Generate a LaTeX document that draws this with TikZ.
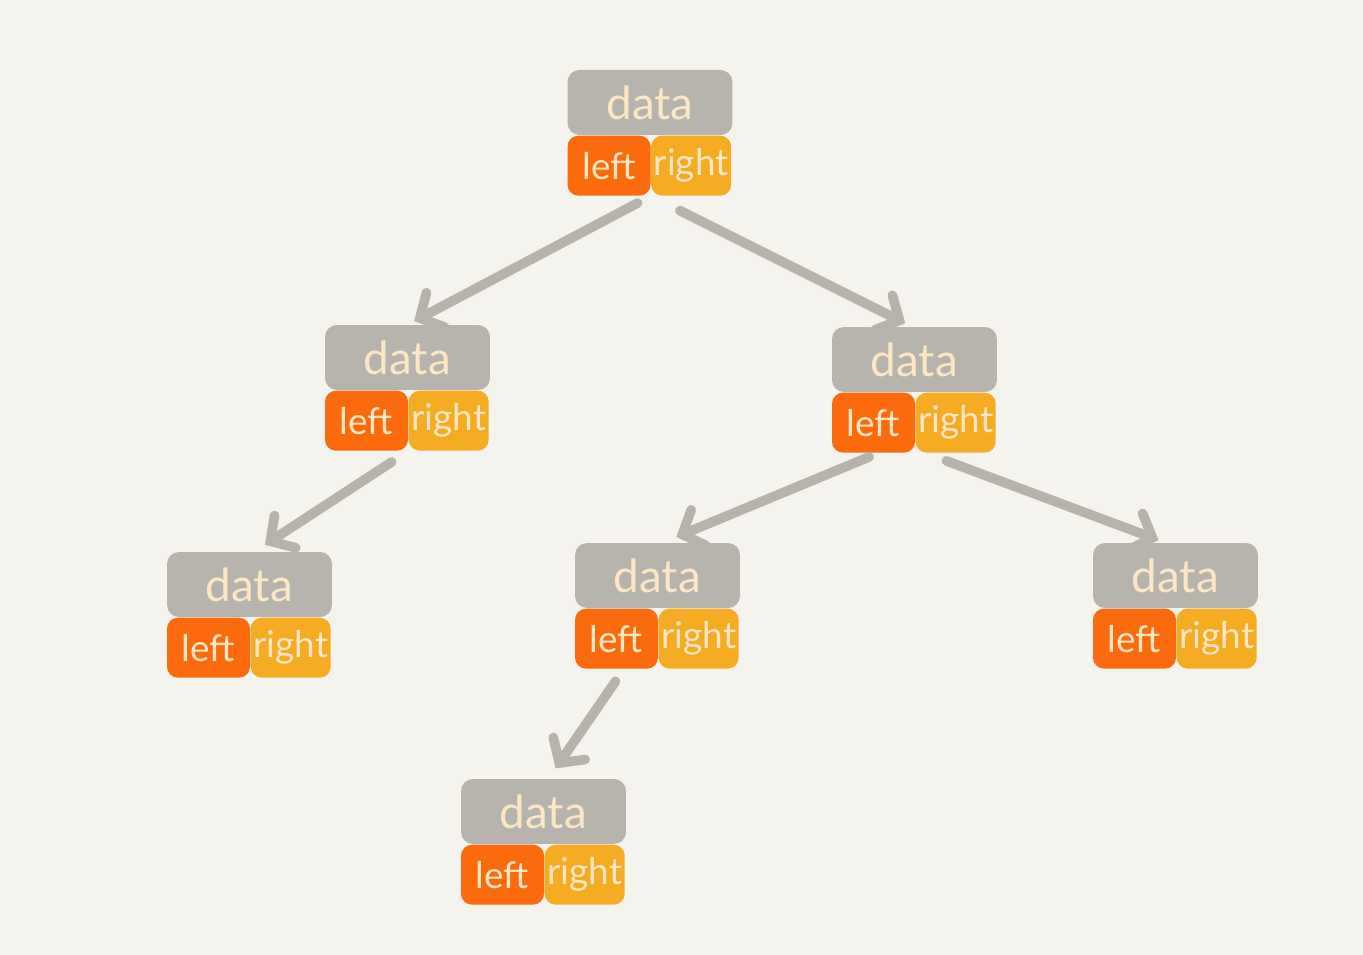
\documentclass[tikz,border=0pt]{standalone}
\usepackage{fontspec}
\setmainfont{Lato}
\usepackage{tikz}
\usetikzlibrary{positioning,arrows.meta}
\definecolor{bgcol}{HTML}{F5F3EE}
\definecolor{datacol}{HTML}{B7B4AD}
\definecolor{leftcol}{HTML}{FB6A0C}
\definecolor{rightcol}{HTML}{F5AB22}
\definecolor{textcol}{HTML}{FCE6C3}
\definecolor{edgecol}{HTML}{B5B3AB}
\newcommand{\bnode}[2]{%
	\node[databox] (#1) at (#2) {data};
	\node[leftbox, below right=0pt and 0pt of #1.south west] (#1-l) {left};
	\node[rightbox, right=0pt of #1-l] (#1-r) {right};
}

\begin{document}
\begin{tikzpicture}[x=0.02cm, y=-0.02cm,
	databox/.style={fill=datacol, text=textcol, rounded corners=0.24cm, minimum width=3.3cm, minimum height=1.3cm, inner sep=0pt, font=\fontsize{26}{30}\selectfont},
	leftbox/.style={fill=leftcol, text=textcol, rounded corners=0.22cm, minimum width=1.66cm, minimum height=1.2cm, inner sep=0pt, font=\fontsize{21}{25}\selectfont},
	rightbox/.style={fill=rightcol, text=textcol, rounded corners=0.22cm, minimum width=1.6cm, minimum height=1.2cm, inner sep=0pt, font=\fontsize{21}{25}\selectfont},
	edge/.style={draw=edgecol, line width=5.5pt, line cap=round, -{Straight Barb[length=10pt, width=22pt, line cap=round]}}]
	\fill[bgcol] (0,0) rectangle (1363,955);
	\useasboundingbox (0,0) rectangle (1363,955);

	\bnode{root}{650,102.5}
	\bnode{a}{407.5,357.5}
	\bnode{b}{914.5,359.5}
	\bnode{c}{249.5,584.5}
	\bnode{d}{657.5,575.5}
	\bnode{e}{1175.5,575.5}
	\bnode{f}{543.5,811.5}

	\draw[edge, shorten <=0.3cm, shorten >=0.15cm] (root-l.south east) -- (a.north);
	\draw[edge, shorten <=0.65cm, shorten >=0.15cm] (root-r.south west) -- ([xshift=-0.05cm]b.north);
	\draw[edge, shorten <=0.4cm, shorten >=0.25cm] (a-l.south east) -- ([xshift=0.1cm]c.north);
	\draw[edge, shorten <=0.2cm, shorten >=0.3cm] ([xshift=0.1cm]b-l.south) -- ([xshift=0.1cm]d.north);
	\draw[edge, shorten <=0.45cm, shorten >=0.15cm] ([xshift=0.2cm]b-r.south west) -- ([xshift=-0.2cm]e.north);
	\draw[edge, shorten <=0.3cm, shorten >=0.25cm] ([xshift=0.15cm]d-l.south) -- ([xshift=0.1cm]f.north);
\end{tikzpicture}
\end{document}
